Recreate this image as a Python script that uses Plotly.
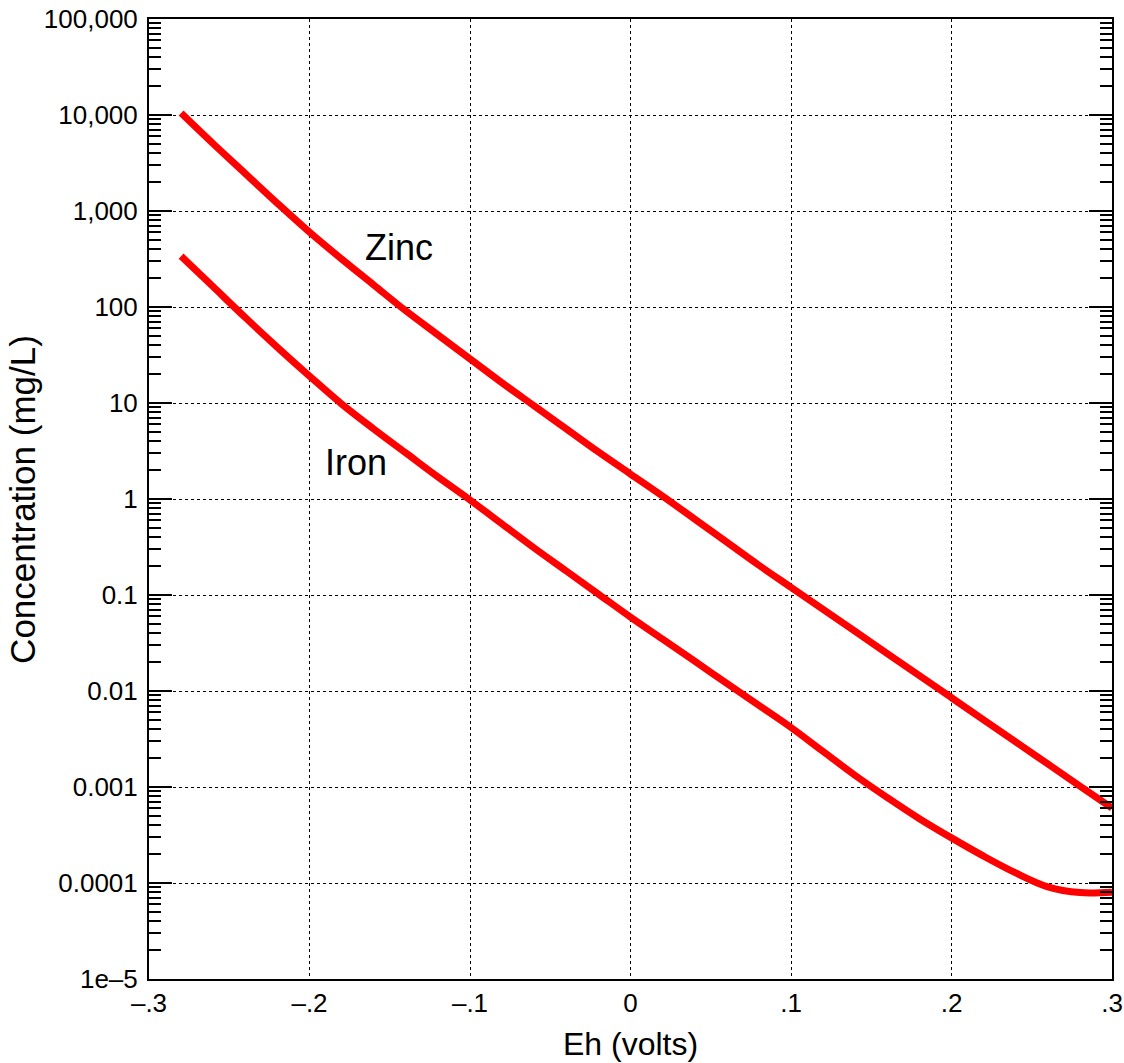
import plotly.graph_objects as go

# Eh (volts)
eh = [-0.28, -0.26, -0.24, -0.22, -0.20, -0.18, -0.16, -0.14, -0.12, -0.10,
      -0.08, -0.06, -0.04, -0.02, 0.00, 0.02, 0.04, 0.06, 0.08, 0.10,
      0.12, 0.14, 0.16, 0.18, 0.20, 0.22, 0.24, 0.26, 0.28, 0.30]

# log10 concentration
zinc_log = [4.02, 3.70, 3.39, 3.08, 2.78, 2.50, 2.23, 1.96, 1.71, 1.46,
            1.21, 0.97, 0.73, 0.49, 0.26, 0.03, -0.21, -0.45, -0.69, -0.92,
            -1.15, -1.38, -1.61, -1.84, -2.07, -2.30, -2.53, -2.76, -2.99, -3.22]
iron_log = [2.53, 2.21, 1.89, 1.58, 1.28, 0.99, 0.73, 0.48, 0.23, -0.01,
            -0.26, -0.51, -0.75, -0.99, -1.23, -1.46, -1.69, -1.92, -2.15, -2.38,
            -2.63, -2.88, -3.11, -3.33, -3.53, -3.72, -3.895, -4.04, -4.10, -4.095]

zinc = [10 ** v for v in zinc_log]
iron = [10 ** v for v in iron_log]

x_tickvals = [-0.3, -0.2, -0.1, 0, 0.1, 0.2, 0.3]
x_ticktext = ["\u2013.3", "\u2013.2", "\u2013.1", "0", ".1", ".2", ".3"]
y_tickvals = [1e-5, 1e-4, 1e-3, 1e-2, 1e-1, 1, 10, 100, 1000, 10000, 100000]
y_ticktext = ["1e\u20135", "0.0001", "0.001", "0.01", "0.1", "1", "10", "100",
              "1,000", "10,000", "100,000"]

# label text, Eh position, log10 concentration position
labels = [("Zinc", -0.144, 2.615), ("Iron", -0.171, 0.385)]

FONT = "Liberation Sans, Arial, Helvetica, sans-serif"
RED = "#ff0000"

fig = go.Figure()
fig.add_trace(go.Scatter(x=eh, y=zinc, mode="lines", name="Zinc",
                         line=dict(color=RED, width=7, shape="spline")))
fig.add_trace(go.Scatter(x=eh, y=iron, mode="lines", name="Iron",
                         line=dict(color=RED, width=7, shape="spline")))

for text, lx, ly in labels:
    fig.add_annotation(x=lx, y=ly, yref="y", xref="x", text=text, showarrow=False,
                       font=dict(family=FONT, size=36, color="black"))

# axis titles
fig.add_annotation(x=0.5, y=-0.0675, xref="paper", yref="paper", text="Eh (volts)",
                   showarrow=False, xanchor="center", yanchor="middle",
                   borderpad=0,
                   font=dict(family=FONT, size=32, color="black"))
fig.add_annotation(x=-0.132, y=0.5, xref="paper", yref="paper",
                   text="Concentration (mg/L)", textangle=-90,
                   showarrow=False, xanchor="center", yanchor="middle",
                   font=dict(family=FONT, size=35, color="black"))

fig.update_layout(
    width=1124, height=1063,
    margin=dict(l=149, r=12, t=19, b=84),
    paper_bgcolor="white", plot_bgcolor="white",
    showlegend=False,
    font=dict(family=FONT, color="black"),
    xaxis=dict(
        range=[-0.3, 0.3], tickvals=x_tickvals, ticktext=x_ticktext,
        showgrid=True, gridcolor="black", griddash="dot", gridwidth=1,
        showline=True, linecolor="black", linewidth=2, mirror=True,
        ticks="", tickfont=dict(size=26), zeroline=False, automargin=False,
    ),
    yaxis=dict(
        type="log", range=[-5, 5], tickvals=y_tickvals, ticktext=y_ticktext,
        showgrid=True, gridcolor="black", griddash="dot", gridwidth=1,
        showline=True, linecolor="black", linewidth=2, mirror="allticks",
        ticks="inside", ticklen=23, tickwidth=2, tickcolor="black",
        minor=dict(ticks="inside", ticklen=12, tickwidth=2, tickcolor="black",
                   dtick="D1", showgrid=False),
        tickfont=dict(size=26), zeroline=False, ticklabelstandoff=4,
        automargin=False,
    ),
)

fig.write_html("out.html")
